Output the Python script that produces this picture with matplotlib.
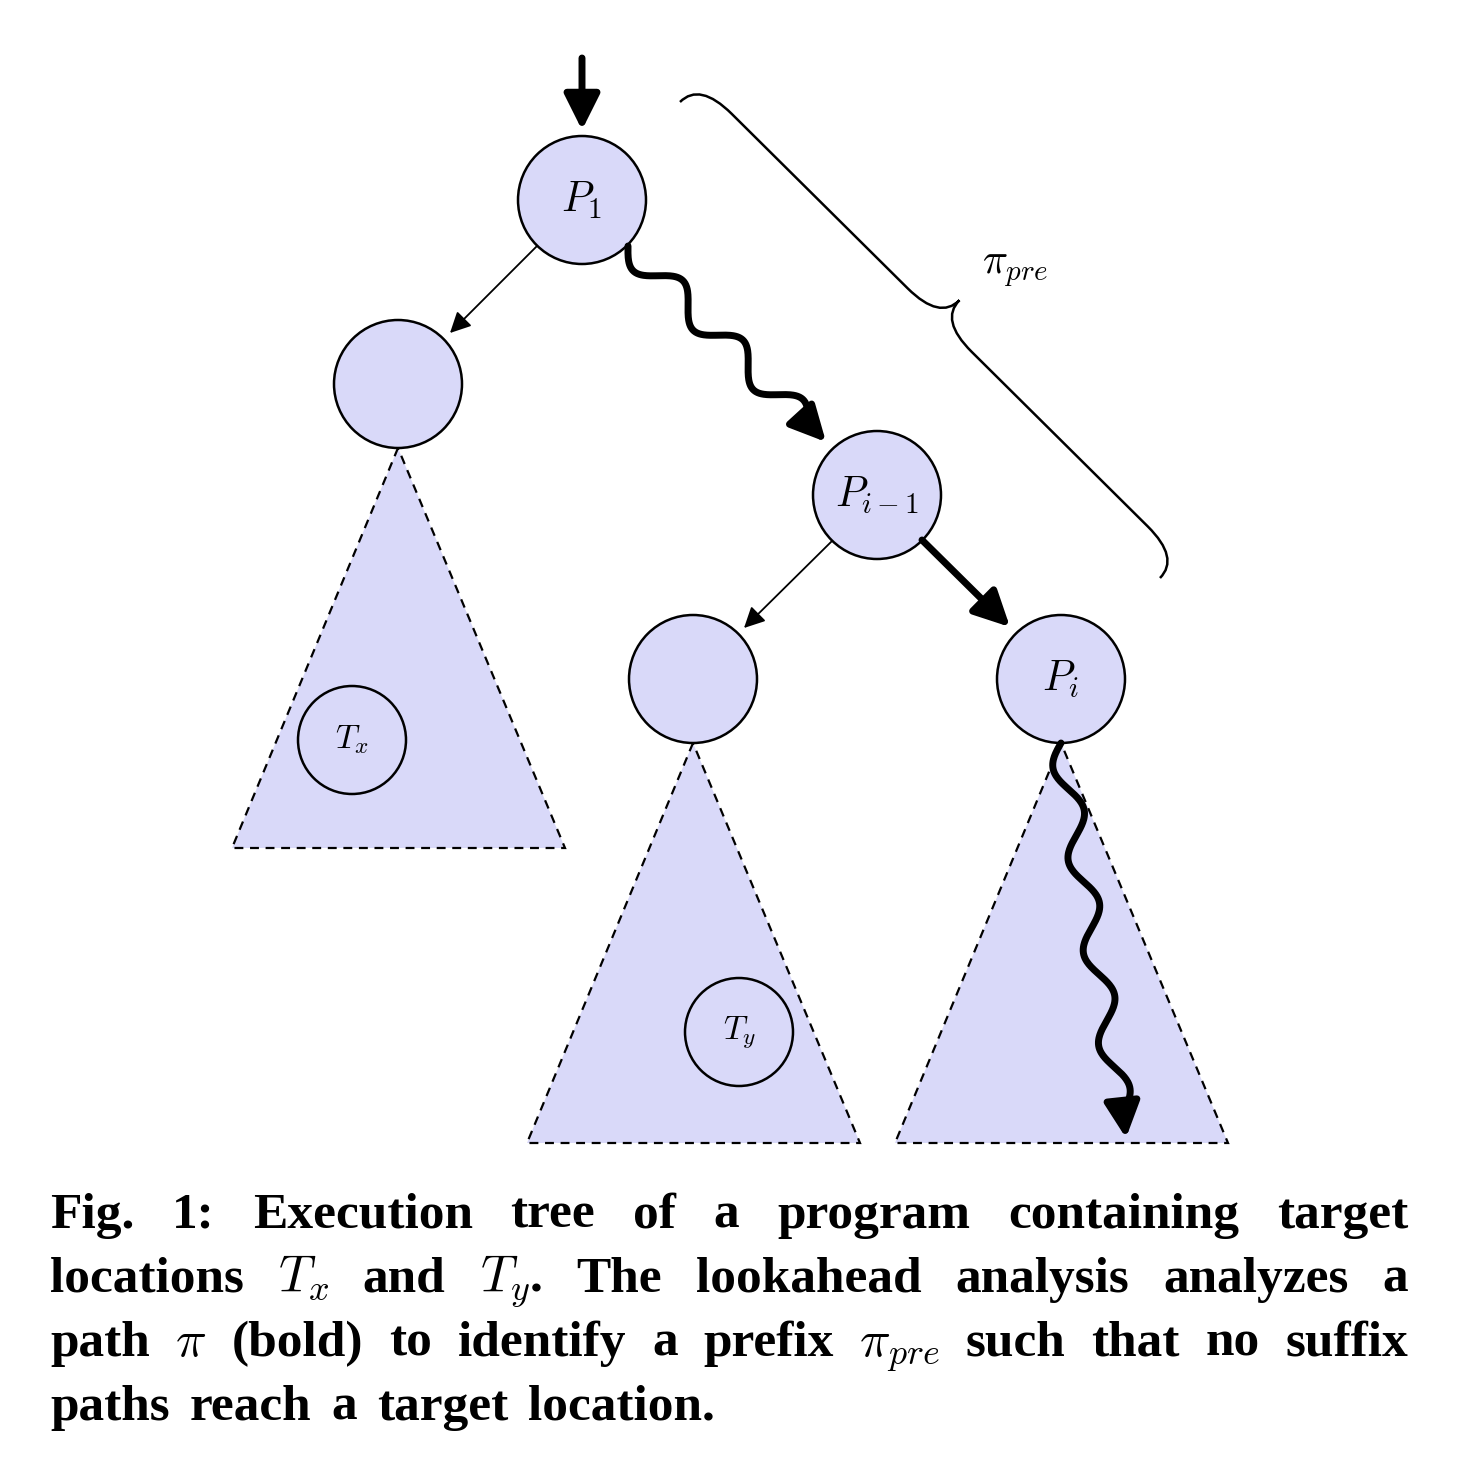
import numpy as np
import matplotlib; matplotlib.use('Agg')
import matplotlib.pyplot as plt
from matplotlib.patches import Circle, Polygon, FancyArrowPatch, PathPatch
from matplotlib.path import Path

plt.rcParams['mathtext.fontset'] = 'cm'

# nodes: (x, y, label)
node_xy = [(582, 200), (398, 384), (877, 495), (693, 679), (1061, 679)]
node_lbl = [r'$P_1$', '', r'$P_{i-1}$', '', r'$P_i$']
targets = [(352, 740, r'$T_x$'), (739, 1032, r'$T_y$')]
tri_apex = [(398, 448), (693, 743), (1061, 743)]
R = 64
FILL = '#d9d9f9'

fig = plt.figure(figsize=(14.58, 14.64), dpi=100)
ax = fig.add_axes([0, 0, 1, 1])
ax.set_xlim(0, 1458); ax.set_ylim(1464, 0); ax.axis('off')

for (x, y) in tri_apex:
    ax.add_patch(Polygon([(x, y), (x - 166, y + 400), (x + 167, y + 400)], closed=True,
                         fc=FILL, ec='black', ls=(0, (4, 3)), lw=1.6, zorder=1))
for (x, y), l in zip(node_xy, node_lbl):
    ax.add_patch(Circle((x, y), R, fc=FILL, ec='black', lw=1.8, zorder=3))
    ax.text(x, y, l, fontsize=30, ha='center', va='center', zorder=4)
for x, y, l in targets:
    ax.add_patch(Circle((x, y), 54, fc='none', ec='black', lw=1.8, zorder=3))
    ax.text(x, y, l, fontsize=24, ha='center', va='center', zorder=4)


def arrow(p0, p1, lw, ms):
    ax.add_patch(FancyArrowPatch(p0, p1, arrowstyle='-|>,head_length=0.9,head_width=0.45',
                                 mutation_scale=ms, lw=lw, color='black',
                                 shrinkA=0, shrinkB=0, zorder=5))


def wavy(p0, p1, amp, periods, lw):
    p0 = np.array(p0, float); p1 = np.array(p1, float)
    d = p1 - p0; L = np.hypot(*d); e = d / L; n = np.array([-e[1], e[0]])
    u = np.linspace(0, L - 25, 400)
    v = amp * np.sin(2 * np.pi * u / (L - 25) * periods)
    pts = p0 + np.outer(u, e) + np.outer(v, n)
    ax.plot(pts[:, 0], pts[:, 1], color='black', lw=lw, solid_capstyle='round', zorder=5)
    arrow(tuple(pts[-3]), tuple(p1), lw, 24)


arrow((582, 58), (582, 130), 5, 24)
arrow((537, 246), (450, 333), 1.3, 14)
arrow((832, 541), (744, 628), 1.3, 14)
arrow((922, 540), (1010, 627), 5, 24)
wavy((628, 246), (826, 442), 14, 3, 5)
wavy((1061, 743), (1126, 1138), 12, 4, 5)

# brace
A = np.array([680, 102.]); B = np.array([1160, 578.])
d = B - A; L = np.hypot(*d); e = d / L; nrm = np.array([e[1], -e[0]])
h, r = 28, 45
loc = [(0, 0), (0, h), (r, h), (L / 2 - r, h), (L / 2, h), (L / 2, 2 * h),
       (L / 2, h), (L / 2 + r, h), (L - r, h), (L, h), (L, 0)]
codes = [Path.MOVETO, Path.CURVE3, Path.CURVE3, Path.LINETO, Path.CURVE3, Path.CURVE3,
         Path.CURVE3, Path.CURVE3, Path.LINETO, Path.CURVE3, Path.CURVE3]
pts = [tuple(A + u * e + v * nrm) for u, v in loc]
ax.add_patch(PathPatch(Path(pts, codes), fc='none', ec='black', lw=1.8))
ax.text(1015, 268, r'$\pi_{pre}$', fontsize=30, ha='center', va='center')

# caption, justified
lines = [
    ['Fig.', '1:', 'Execution', 'tree', 'of', 'a', 'program', 'containing', 'target'],
    ['locations', r'$T_x$', 'and', r'$T_y$', '.', 'The', 'lookahead', 'analysis', 'analyzes', 'a'],
    ['path', r'$\pi$', '(bold)', 'to', 'identify', 'a', 'prefix', r'$\pi_{pre}$', 'such', 'that', 'no', 'suffix'],
    ['paths', 'reach', 'a', 'target', 'location.'],
]
x0, x1, y0, dy = 50, 1408, 1228, 64
fig.canvas.draw()
rend = fig.canvas.get_renderer()
for i, toks in enumerate(lines):
    y = y0 + i * dy
    arts = [ax.text(0, y, t, fontsize=37, fontweight='bold', family='Liberation Serif',
                    va='baseline', ha='left') for t in toks]
    ws = [a.get_window_extent(rend).width for a in arts]
    glue = [0 if t == '.' else 1 for t in toks[1:]]
    if i < len(lines) - 1:
        gap = (x1 - x0 - sum(ws)) / sum(glue)
    else:
        gap = 20
    x = x0
    for k, a in enumerate(arts):
        if k > 0:
            x += gap * glue[k - 1]
        a.set_x(x)
        x += ws[k]

fig.savefig('out.png', dpi=100)
